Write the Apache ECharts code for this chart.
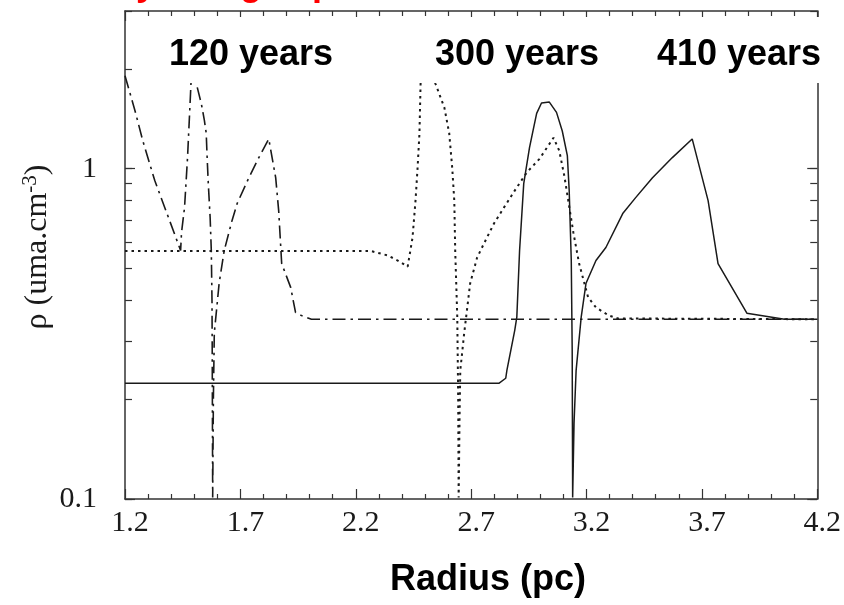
<!DOCTYPE html>
<html>
<head>
<meta charset="utf-8">
<script src="https://cdn.jsdelivr.net/npm/echarts@6/dist/echarts.min.js"></script>
<style>
  html, body { margin: 0; padding: 0; background: #fff; }
  #chart { width: 844px; height: 605px; }
</style>
</head>
<body>
<div id="chart"></div>
<script>
// Radius (pc) and density (uma.cm^-3) for the three epochs
const radius120 = [1.200, 1.243, 1.277, 1.329, 1.393, 1.441, 1.445, 1.458, 1.471, 1.484, 1.496, 1.509, 1.531, 1.544, 1.552, 1.556, 1.561, 1.569, 1.574, 1.577, 1.578, 1.580, 1.583, 1.587, 1.608, 1.630, 1.664, 1.686, 1.737, 1.780, 1.823, 1.853, 1.866, 1.879, 1.918, 1.939, 1.965, 2.008, 4.200];
const rho120    = [1.91, 1.50, 1.215, 0.92, 0.697, 0.565, 0.641, 0.762, 1.08, 1.69, 2.6, 1.81, 1.57, 1.40, 1.28, 1.08, 0.90, 0.71, 0.565, 0.40, 0.28, 0.101, 0.20, 0.318, 0.45, 0.565, 0.697, 0.784, 0.939, 1.08, 1.23, 0.939, 0.746, 0.516, 0.437, 0.367, 0.359, 0.35, 0.35];

const radius300 = [1.200, 2.266, 2.339, 2.382, 2.425, 2.446, 2.459, 2.468, 2.476, 2.481, 2.510, 2.545, 2.584, 2.605, 2.618, 2.627, 2.631, 2.640, 2.644, 2.646, 2.650, 2.653, 2.670, 2.696, 2.726, 2.756, 2.799, 2.842, 2.889, 2.941, 2.996, 3.057, 3.082, 3.104, 3.121, 3.143, 3.168, 3.207, 3.241, 3.297, 3.336, 4.200];
const rho300    = [0.563, 0.563, 0.546, 0.527, 0.505, 0.618, 0.80, 1.007, 1.276, 1.81, 2.7, 1.81, 1.53, 1.28, 1.007, 0.80, 0.565, 0.355, 0.199, 0.101, 0.18, 0.245, 0.318, 0.45, 0.538, 0.594, 0.682, 0.762, 0.858, 0.973, 1.07, 1.24, 1.133, 0.95, 0.80, 0.641, 0.516, 0.408, 0.38, 0.359, 0.352, 0.35];

const radius410 = [1.200, 2.820, 2.850, 2.855, 2.889, 2.898, 2.910, 2.928, 2.953, 2.971, 2.984, 3.005, 3.039, 3.070, 3.095, 3.117, 3.125, 3.134, 3.138, 3.140, 3.146, 3.155, 3.177, 3.198, 3.241, 3.284, 3.357, 3.413, 3.486, 3.572, 3.658, 3.727, 3.770, 3.895, 4.058, 4.200];
const rho410    = [0.224, 0.224, 0.232, 0.245, 0.324, 0.355, 0.565, 0.901, 1.157, 1.33, 1.47, 1.58, 1.59, 1.48, 1.30, 1.095, 0.858, 0.527, 0.282, 0.101, 0.17, 0.245, 0.355, 0.45, 0.527, 0.577, 0.731, 0.817, 0.939, 1.08, 1.23, 0.80, 0.516, 0.365, 0.35, 0.35];

const epochLabels = ['120 years', '300 years', '410 years'];
const yTickValues = [0.1, 0.2, 0.3, 0.4, 0.5, 0.6, 0.7, 0.8, 0.9, 1, 2, 3];
const yMajorTicks = [0.1, 1];
const yLabelValues = [0.1, 1];

const zip = (xs, ys) => xs.map((x, i) => [x, ys[i]]);

const ink = '#1a1a1a';
const frame = '#333';
const serif = '"Liberation Serif", "Times New Roman", serif';
const sans = '"Liberation Sans", Arial, sans-serif';

function xAxisDef(pos, labels) {
  return {
    type: 'value', position: pos, min: 1.2, max: 4.2, interval: 0.5,
    axisLine: { show: true, onZero: false, lineStyle: { color: frame, width: 1.5 } },
    axisTick: { show: true, inside: true, length: 10, lineStyle: { color: frame, width: 1.2 } },
    minorTick: { show: true, splitNumber: 5, length: 5, lineStyle: { color: frame, width: 1.2 } },
    splitLine: { show: false }, minorSplitLine: { show: false },
    axisLabel: {
      show: labels, color: ink, fontFamily: serif, fontSize: 30, margin: 9,
      padding: [0, 0, 0, 10],
      formatter: v => v.toFixed(1)
    }
  };
}

function yAxisDef(pos, ticks, len, labels, line) {
  return {
    type: 'log', logBase: 10, position: pos, min: 0.1, max: 3,
    axisLine: { show: line, onZero: false, lineStyle: { color: frame, width: 1.5 } },
    axisTick: { show: true, inside: true, length: len, customValues: ticks, lineStyle: { color: frame, width: 1.2 } },
    splitLine: { show: false },
    axisLabel: labels ? {
      show: true, customValues: yLabelValues, color: ink, fontFamily: serif, fontSize: 30, margin: 28,
      padding: [6, 0, 0, 0],
      formatter: v => (v < 1 ? String(+v.toFixed(1)) : String(Math.round(v)))
    } : { show: false }
  };
}

function curve(name, xs, ys, dash, width) {
  return {
    name, type: 'line', xAxisIndex: 0, yAxisIndex: 0,
    data: zip(xs, ys), symbol: 'none', smooth: false, clip: true,
    lineStyle: { color: ink, width: width, type: dash, cap: 'butt' },
    z: 3
  };
}

const chart = echarts.init(document.getElementById('chart'), null, { renderer: 'canvas' });
chart.setOption({
  animation: false,
  backgroundColor: '#fff',
  grid: { left: 125, top: 11, width: 698, height: 488, show: false },
  xAxis: [xAxisDef('bottom', true), xAxisDef('top', false)],
  yAxis: [
    yAxisDef('left', yTickValues, 7, true, true),
    yAxisDef('left', yMajorTicks, 10, false, false),
    yAxisDef('right', yTickValues, 7, false, true),
    yAxisDef('right', yMajorTicks, 10, false, false)
  ],
  series: [
    curve(epochLabels[0], radius120, rho120, [13, 5, 2.5, 5], 1.6),
    curve(epochLabels[1], radius300, rho300, [2.5, 4], 2),
    curve(epochLabels[2], radius410, rho410, 'solid', 1.5)
  ],
  graphic: [
    // slide heading, mostly above the frame
    { type: 'text', x: 26, y: -15, z: 200,
      style: { text: 'Density and gas pressure', fill: '#ff0000', font: 'bold 36px ' + sans, align: 'left', verticalAlign: 'middle' } },
    // label band over the upper part of the plot
    { type: 'rect', z: 100, shape: { x: 136, y: 17, width: 694, height: 66 }, style: { fill: '#fff' } },
    { type: 'text', x: 251, y: 55, z: 101,
      style: { text: epochLabels[0], fill: '#000', font: 'bold 36px ' + sans, align: 'center', verticalAlign: 'middle' } },
    { type: 'text', x: 517, y: 55, z: 101,
      style: { text: epochLabels[1], fill: '#000', font: 'bold 36px ' + sans, align: 'center', verticalAlign: 'middle' } },
    { type: 'text', x: 739, y: 55, z: 101,
      style: { text: epochLabels[2], fill: '#000', font: 'bold 36px ' + sans, align: 'center', verticalAlign: 'middle' } },
    // axis titles
    { type: 'text', x: 488, y: 580, z: 101,
      style: { text: 'Radius (pc)', fill: '#000', font: 'bold 36px ' + sans, align: 'center', verticalAlign: 'middle' } },
    { type: 'text', x: 38, y: 247, rotation: Math.PI / 2, z: 101,
      style: {
        text: '{a|ρ (uma.cm}{s|-3}{a|)}', align: 'center', verticalAlign: 'middle',
        rich: {
          a: { fill: ink, fontFamily: serif, fontSize: 32, lineHeight: 36 },
          s: { fill: ink, fontFamily: serif, fontSize: 21, lineHeight: 36, verticalAlign: 'top' }
        }
      } }
  ]
});
</script>
</body>
</html>
